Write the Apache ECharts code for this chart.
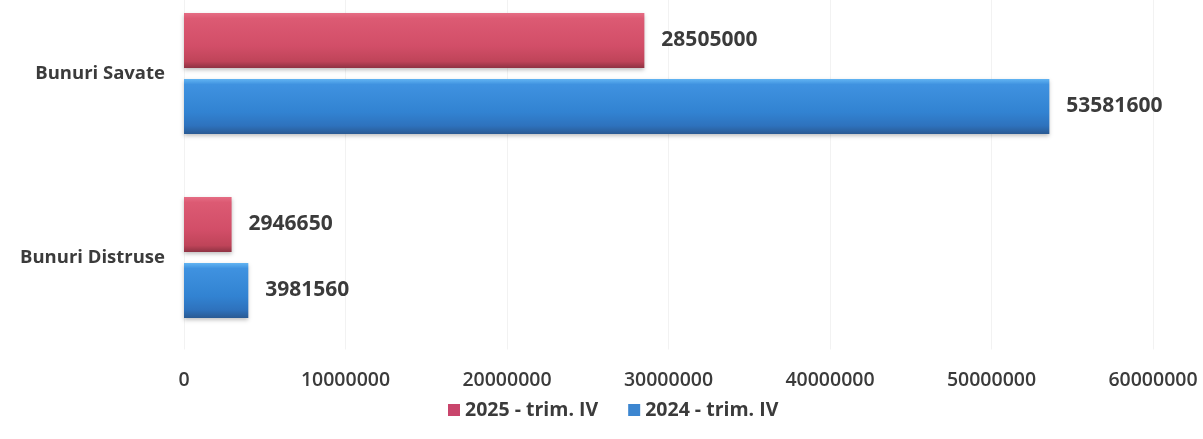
<!DOCTYPE html>
<html><head><meta charset="utf-8">
<script src="https://cdn.jsdelivr.net/npm/echarts@6/dist/echarts.min.js"></script>
<style>html,body{margin:0;padding:0;background:#fff;overflow:hidden;width:1203px;height:439px}#c{position:absolute;left:0;top:-20px;width:1203px;height:459px}</style>
</head><body><div id="c"></div>
<script>
const categories = ['Bunuri Savate', 'Bunuri Distruse'];
const seriesNames = ['2025 - trim. IV', '2024 - trim. IV'];
const values2025 = [28505000, 2946650];
const values2024 = [53581600, 3981560];
const xTicks = [0, 10000000, 20000000, 30000000, 40000000, 50000000, 60000000];

const FONT = '"Open Sans", Lato, sans-serif';
const TXT = '#3b3b3b';
const redGrad = new echarts.graphic.LinearGradient(0,0,0,1,[
  {offset:0,color:'#e56d84'},{offset:0.1,color:'#dc5a73'},{offset:0.6,color:'#d24e68'},{offset:0.88,color:'#bf4459'},{offset:1,color:'#8f3343'}]);
const blueGrad = new echarts.graphic.LinearGradient(0,0,0,1,[
  {offset:0,color:'#62b4f2'},{offset:0.1,color:'#3f92e0'},{offset:0.6,color:'#3283d2'},{offset:0.85,color:'#2e72bd'},{offset:1,color:'#2a5a93'}]);
const redLeg = '#c9456c', blueLeg = '#3c86d0';

const chart = echarts.init(document.getElementById('c'), null, {renderer:'canvas'});
const lbl = {show:true, position:'right', distance:17, color:TXT, fontFamily:FONT, fontWeight:'bold', fontSize:21};
chart.setOption({
  animation:false,
  grid:{left:184, right:50, top:1.5, bottom:89.5, containLabel:false},
  legend:{top:415, left:443, itemWidth:12, itemHeight:12, itemGap:30,
    icon:'rect',
    textStyle:{fontFamily:FONT, fontWeight:'bold', fontSize:19.5, color:TXT},
    data:[{name:seriesNames[0], itemStyle:{color:redLeg}},{name:seriesNames[1], itemStyle:{color:blueLeg}}]},
  xAxis:{type:'value', min:xTicks[0], max:xTicks[xTicks.length-1], interval:xTicks[1]-xTicks[0],
    axisLine:{show:false}, axisTick:{show:false},
    splitLine:{show:true, lineStyle:{color:'#f2f2f2'}},
    axisLabel:{margin:21, fontFamily:FONT, fontWeight:600, fontSize:19.5, color:TXT, formatter:v=>String(v)}},
  yAxis:{type:'category', inverse:true, data:categories,
    axisLine:{show:false}, axisTick:{show:false},
    axisLabel:{margin:19, fontFamily:FONT, fontWeight:'bold', fontSize:18.5, color:TXT}},
  series:[
    {name:seriesNames[0], type:'bar', data:values2025, barWidth:55, barGap:'20%',
     itemStyle:{color:redGrad, shadowColor:'rgba(0,0,0,0.25)', shadowBlur:4, shadowOffsetY:2}, label:lbl},
    {name:seriesNames[1], type:'bar', data:values2024, barWidth:55,
     itemStyle:{color:blueGrad, shadowColor:'rgba(0,0,0,0.25)', shadowBlur:4, shadowOffsetY:2}, label:lbl}
  ]
});
</script></body></html>
